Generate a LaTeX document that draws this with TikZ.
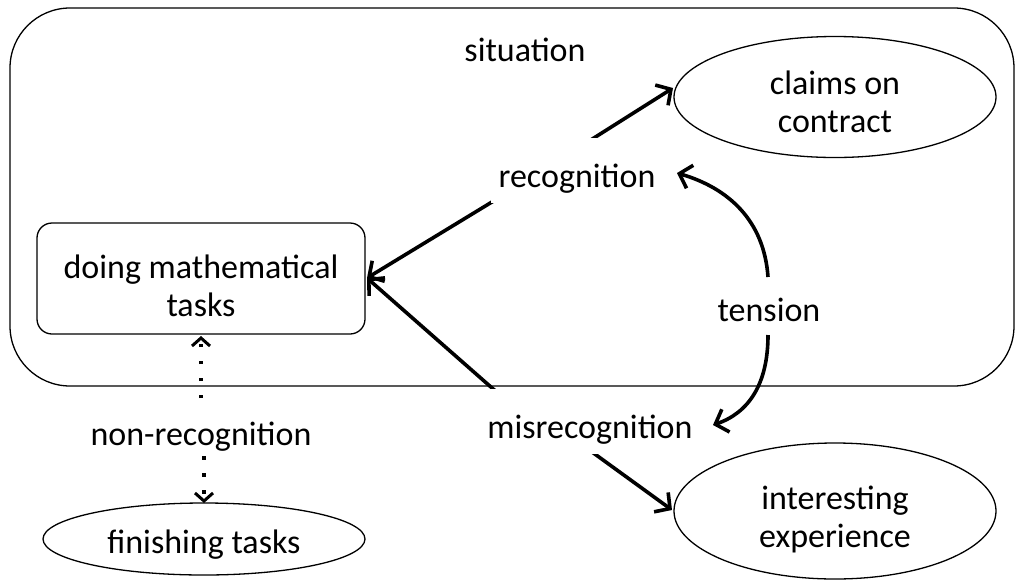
\documentclass[tikz,border=0pt]{standalone}
\usepackage{fontspec}
\setmainfont{Carlito}
\usetikzlibrary{arrows.meta,shapes.geometric}
\begin{document}
\begin{tikzpicture}[x=1pt,y=-1pt,
  every node/.style={font=\fontsize{34}{38}\selectfont, inner sep=0pt, align=center},
  outline/.style={draw, line width=1.3pt},
  lbl/.style={fill=white, anchor=base, text height=34pt, text depth=1pt, inner ysep=15pt, inner xsep=8pt},
  conn/.style={line width=3.6pt, -{Straight Barb[length=11pt,width=24pt,line width=3.6pt]}},
  dotconn/.style={line width=3.6pt, dash pattern=on 3.5pt off 13.5pt, -{Straight Barb[length=8pt,width=18pt,line width=3pt]}}]
\useasboundingbox (0,0) rectangle (1015,582);
\node (sit) [outline, rounded corners=60pt, minimum width=1004pt, minimum height=378pt] at (512,197) {};
\node (situation) at (525,50) {situation};
\node (claims) [outline, ellipse, minimum width=322pt, minimum height=121pt] at (835,97) {};
\node at (835,102) {claims on\\contract};
\node (interest) [outline, ellipse, minimum width=322pt, minimum height=136pt] at (835,511) {};
\node at (835,519) {interesting\\experience};
\node (finish) [outline, ellipse, minimum width=322pt, minimum height=72pt] at (204,539) {};
\node at (204,545) {finishing tasks};
\node (doing) [outline, rounded corners=15pt, minimum width=328pt, minimum height=111pt] at (201,278.5) {};
\node at (201,286) {doing mathematical\\tasks};
\node (tension) at (769,310) {tension};
\node (nonrec) at (201,437) {non-recognition};
\coordinate (r0) at (510,191);
\coordinate (cl) at (673,88);
\coordinate (dr) at (367,278);
\coordinate (m0) at (500,395);
\coordinate (m1) at (570,436);
\coordinate (ie) at (672,510);
\coordinate (t1) at (768,277);
\coordinate (t1e) at (677,173);
\coordinate (t2) at (768,335);
\coordinate (t2e) at (713,425);
\coordinate (d0) at (201,398);
\coordinate (d1) at (201,336);
\coordinate (f0) at (204,456);
\coordinate (f1) at (204,503);
\draw[conn] (r0) -- (cl);
\draw[conn] (r0) -- (dr);
\draw[conn] (m0) -- (dr);
\draw[conn] (m1) -- (ie);
\draw[conn] (t1) .. controls (764,220) and (728,188) .. (t1e);
\draw[conn] (t2) .. controls (768,385) and (748,413) .. (t2e);
\draw[dotconn] (d0) -- (d1);
\draw[dotconn] (f0) -- (f1);
\node (rec) [lbl] at (577,187) {recognition};
\node (misrec) [lbl] at (590,438) {misrecognition};
\end{tikzpicture}
\end{document}
